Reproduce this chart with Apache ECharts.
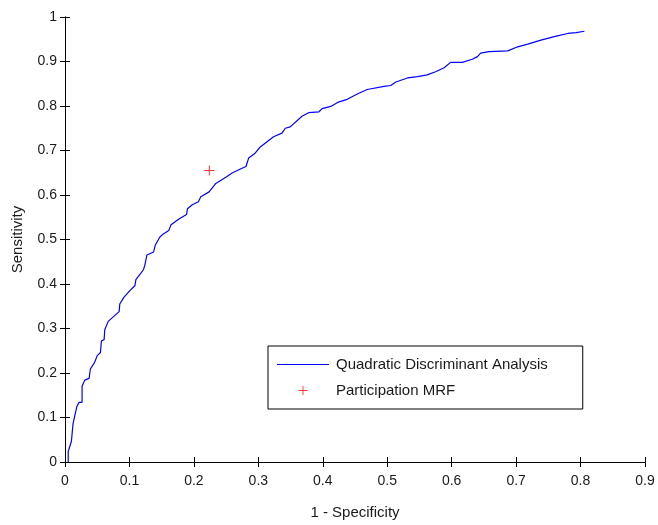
<!DOCTYPE html>
<html>
<head>
<meta charset="utf-8">
<script src="https://cdn.jsdelivr.net/npm/echarts@6/dist/echarts.min.js"></script>
<style>
  html, body { margin: 0; padding: 0; background: #fff; }
  #chart { width: 658px; height: 525px; }
</style>
</head>
<body>
<div id="chart"></div>
<script>
// ROC curve: x = 1 - Specificity, y = Sensitivity
const rocX = [0.005,0.005,0.0099,0.0124,0.015,0.0187,0.0218,0.0265,0.0265,0.0306,0.0374,0.0394,0.046,0.050,0.055,0.0565,0.0607,0.0617,0.067,0.084,0.085,0.0913,0.1006,0.1084,0.110,0.116,0.1217,0.124,0.127,0.1375,0.140,0.147,0.152,0.161,0.1645,0.1768,0.1886,0.190,0.1975,0.207,0.2107,0.2236,0.234,0.2496,0.26,0.273,0.2808,0.285,0.295,0.303,0.3236,0.3366,0.3418,0.3495,0.3677,0.378,0.394,0.399,0.4125,0.423,0.4379,0.4535,0.469,0.495,0.5055,0.5133,0.5314,0.547,0.562,0.575,0.5883,0.5983,0.6165,0.632,0.640,0.645,0.658,0.687,0.7025,0.718,0.7385,0.7592,0.78,0.793,0.806];
const rocY = [0,0.024,0.046,0.085,0.103,0.126,0.134,0.134,0.170,0.184,0.188,0.209,0.224,0.239,0.246,0.272,0.275,0.297,0.316,0.338,0.355,0.370,0.385,0.396,0.410,0.421,0.432,0.443,0.465,0.472,0.487,0.505,0.512,0.520,0.533,0.546,0.556,0.569,0.578,0.585,0.596,0.607,0.626,0.640,0.650,0.659,0.664,0.683,0.694,0.708,0.731,0.739,0.750,0.753,0.777,0.785,0.787,0.794,0.799,0.808,0.815,0.827,0.837,0.844,0.846,0.854,0.863,0.866,0.870,0.877,0.886,0.898,0.898,0.905,0.911,0.919,0.922,0.924,0.933,0.939,0.948,0.956,0.963,0.965,0.968];
const mrfX = [0.224];
const mrfY = [0.655];
const seriesNames = ['Quadratic Discriminant Analysis', 'Participation MRF'];
const xTickLabels = ['0','0.1','0.2','0.3','0.4','0.5','0.6','0.7','0.8','0.9'];
const yTickLabels = ['0','0.1','0.2','0.3','0.4','0.5','0.6','0.7','0.8','0.9','1'];
const xTitle = '1 - Specificity';
const yTitle = 'Sensitivity';

const FONT = 'Liberation Sans, Arial, Helvetica, sans-serif';
const TXT = '#1a1a1a';
const plusPath = 'path://M4.5,0 H5.5 V4.5 H10 V5.5 H5.5 V10 H4.5 V5.5 H0 V4.5 H4.5 Z';
const linePath = 'path://M0,0 H52 V1 H0 Z';

const chart = echarts.init(document.getElementById('chart'), null, { renderer: 'canvas' });

const axisCommon = {
  axisLine: { show: true, lineStyle: { color: '#000', width: 1 } },
  axisTick: { show: true, inside: true, length: 5, lineStyle: { color: '#000', width: 1 } },
  splitLine: { show: false }
};

chart.setOption({
  backgroundColor: '#fff',
  animation: false,
  grid: { left: 65, right: 13, top: 17, bottom: 52, containLabel: false },
  legend: {
    orient: 'vertical',
    left: 268,
    top: 346,
    padding: [11, 35, 11, 9],
    backgroundColor: '#fff',
    borderColor: '#000',
    borderWidth: 1,
    borderRadius: 0,
    itemGap: 11,
    itemWidth: 52,
    itemHeight: 9,
    textStyle: { fontFamily: FONT, fontSize: 15, color: TXT, padding: [0, 0, 0, 2] },
    data: [
      { name: seriesNames[0], icon: linePath, itemStyle: { color: '#0000ff' } },
      { name: seriesNames[1] }
    ]
  },
  xAxis: [
    Object.assign({
      type: 'value', min: 0, max: 0.9, interval: 0.1, position: 'bottom',
      name: xTitle, nameLocation: 'middle', nameGap: 43,
      nameTextStyle: { fontFamily: FONT, fontSize: 15, color: TXT },
      axisLabel: {
        fontFamily: FONT, fontSize: 14, color: TXT, margin: 12,
        formatter: v => xTickLabels[Math.round(v * 10)]
      }
    }, axisCommon),
    Object.assign({
      type: 'value', min: 0, max: 0.9, interval: 0.1, position: 'top',
      axisLabel: { show: false }
    }, axisCommon)
  ],
  yAxis: [
    Object.assign({
      type: 'value', min: 0, max: 1, interval: 0.1, position: 'left',
      name: yTitle, nameLocation: 'middle', nameGap: 40, nameRotate: 90,
      nameTextStyle: { fontFamily: FONT, fontSize: 15, color: TXT },
      axisLabel: {
        fontFamily: FONT, fontSize: 14, color: TXT, margin: 8,
        formatter: v => yTickLabels[Math.round(v * 10)]
      }
    }, axisCommon),
    Object.assign({
      type: 'value', min: 0, max: 1, interval: 0.1, position: 'right',
      axisLabel: { show: false }
    }, axisCommon)
  ],
  series: [
    {
      name: seriesNames[0],
      type: 'line',
      xAxisIndex: 0, yAxisIndex: 0,
      data: rocX.map((x, i) => [x, rocY[i]]),
      showSymbol: false,
      symbol: 'none',
      lineStyle: { color: '#0000ff', width: 1.2 },
      itemStyle: { color: '#0000ff' },
      emphasis: { disabled: true }
    },
    {
      name: seriesNames[1],
      type: 'scatter',
      xAxisIndex: 0, yAxisIndex: 0,
      data: mrfX.map((x, i) => [x, mrfY[i]]),
      symbol: plusPath,
      symbolSize: 10,
      itemStyle: { color: '#ff0000' },
      emphasis: { disabled: true }
    }
  ]
});
</script>
</body>
</html>
